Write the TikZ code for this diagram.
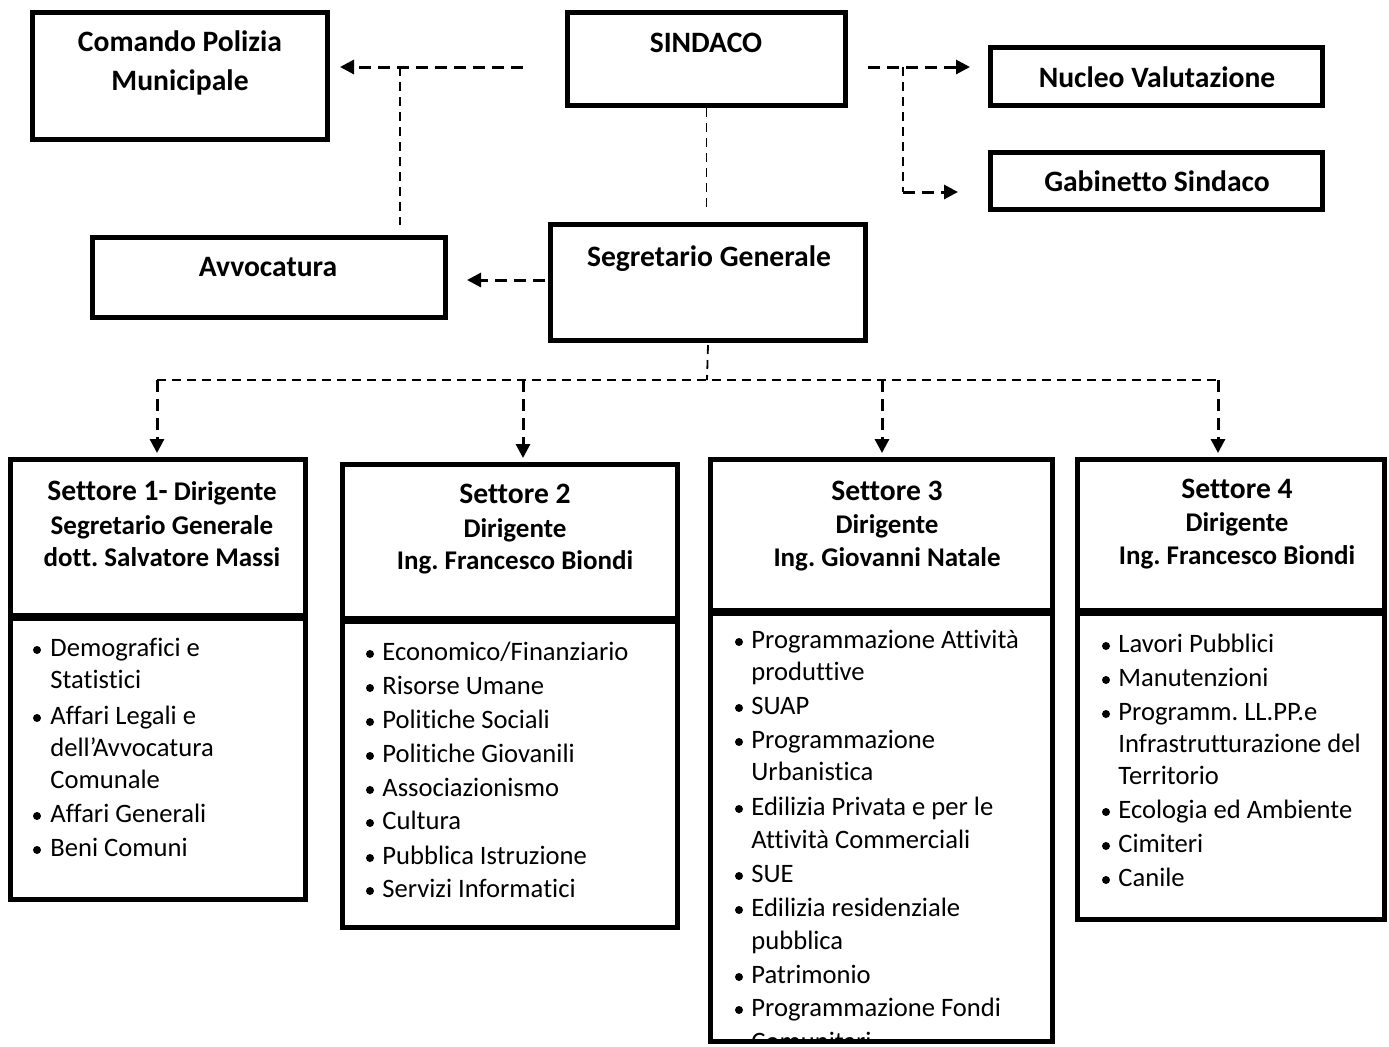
\documentclass[tikz,border=0pt]{standalone}
\usepackage{fontspec}
\setmainfont{Carlito}[Ligatures=CommonOff]
\usetikzlibrary{arrows.meta,fit}
\frenchspacing
\begin{document}
\begin{tikzpicture}[x=0.5pt,y=-0.5pt,
  box/.style={draw,line width=2.5pt,inner sep=0pt,fit={#1}},
  ttl/.style={font=\bfseries\fontsize{14.8}{17}\selectfont,inner sep=0pt,anchor=base},
  sub/.style={font=\bfseries\fontsize{13.5}{15}\selectfont,inner sep=0pt,anchor=base},
  itm/.style={font=\fontsize{13.3}{15}\selectfont,inner sep=0pt,anchor=base west},
  dthick/.style={line width=1.5pt,dash pattern=on 6pt off 3.5pt},
  dthin/.style={line width=0.9pt,dash pattern=on 4.5pt off 3pt},
  arr/.style={-{Triangle[length=7pt,width=7pt]}}]
\useasboundingbox (0,0) rectangle (1389,1046);

% ---------- top boxes ----------
\node[box={(32.5,12.5) (327.5,139.5)}] (cpm) {};
\node[box={(567.5,12.5) (845.5,105.5)}] (sind) {};
\node[box={(990.5,47.5) (1322.5,105.5)}] (nv) {};
\node[box={(990.5,152.5) (1322.5,209.5)}] (gs) {};
\node[box={(92.5,237.5) (445.5,317.5)}] (avv) {};
\node[box={(550.5,224.5) (865.5,340.5)}] (sg) {};

\node[ttl] (tcpm1) at (180,51) {Comando Polizia};
\node[ttl] (tcpm2) at (180,90) {Municipale};
\node[ttl] (tsind) at (706,52) {SINDACO};
\node[ttl] (tnv) at (1157,87) {Nucleo Valutazione};
\node[ttl] (tgs) at (1157,191) {Gabinetto Sindaco};
\node[ttl] (tavv) at (268,276) {Avvocatura};
\node[ttl] (tsg) at (709,266) {Segretario Generale};

% ---------- settore boxes ----------
\node[box={(10.5,459.5) (305.5,615.5)}] (s1h) {};
\node[box={(10.5,618.5) (305.5,899.5)}] (s1l) {};
\node[box={(342.5,464.5) (677.5,618.5)}] (s2h) {};
\node[box={(342.5,621.5) (677.5,927.5)}] (s2l) {};
\node[box={(710.5,459.5) (1052.5,610.5)}] (s3h) {};
\node[box={(710.5,613.5) (1052.5,1041.5)}] (s3l) {};
\node[box={(1077.5,459.5) (1384.5,610.5)}] (s4h) {};
\node[box={(1077.5,613.5) (1384.5,919.5)}] (s4l) {};

\node[ttl] (h11) at (162,500) {Settore 1-{\fontsize{13.5}{15}\selectfont\ Dirigente}};
\node[sub] (h12) at (162,534) {Segretario Generale};
\node[sub] (h13) at (162,566) {dott. Salvatore Massi};
\node[ttl] (h21) at (515,503) {Settore 2};
\node[sub] (h22) at (515,537) {Dirigente};
\node[sub] (h23) at (515,569) {Ing. Francesco Biondi};
\node[ttl] (h31) at (887,500) {Settore 3};
\node[sub] (h32) at (887,533) {Dirigente};
\node[sub] (h33) at (887,566) {Ing. Giovanni Natale};
\node[ttl] (h41) at (1237,498) {Settore 4};
\node[sub] (h42) at (1237,531) {Dirigente};
\node[sub] (h43) at (1237,564) {Ing. Francesco Biondi};

% ---------- lists ----------
\foreach \y/\b/\t [count=\i] in {648/1/{Demografici e},680/0/{Statistici},716/1/{Affari Legali e},748/0/{dell’Avvocatura},780/0/{Comunale},814/1/{Affari Generali},848/1/{Beni Comuni}}{
  \node[itm] (la\i) at (50,\y+8) {\t};
  \ifnum\b=1 \fill (37,\y+2) circle[radius=2pt]; \fi
}
\foreach \y/\b/\t [count=\i] in {652/1/{Economico/Finanziario},686/1/{Risorse Umane},720/1/{Politiche Sociali},754/1/{Politiche Giovanili},788/1/{Associazionismo},821/1/{Cultura},856/1/{Pubblica Istruzione},889/1/{Servizi Informatici}}{
  \node[itm] (lb\i) at (382,\y+8) {\t};
  \ifnum\b=1 \fill (370,\y+2) circle[radius=2pt]; \fi
}
\begin{scope}
\clip (713,616) rectangle (1050,1039);
\foreach \y/\b/\t [count=\i] in {640/1/{Programmazione Attività},672/0/{produttive},706/1/{SUAP},740/1/{Programmazione},772/0/{Urbanistica},807/1/{Edilizia Privata e per le},840/0/{Attività Commerciali},874/1/{SUE},908/1/{Edilizia residenziale},941/0/{pubblica},975/1/{Patrimonio},1008/1/{Programmazione Fondi},1042/0/{Comunitari}}{
  \node[itm] (lc\i) at (751,\y+8) {\t};
  \ifnum\b=1 \fill (739,\y+2) circle[radius=2pt]; \fi
}
\end{scope}
\foreach \y/\b/\t [count=\i] in {644/1/{Lavori Pubblici},678/1/{Manutenzioni},712/1/{Programm. LL.PP.e},744/0/{Infrastrutturazione del},776/0/{Territorio},810/1/{Ecologia ed Ambiente},844/1/{Cimiteri},878/1/{Canile}}{
  \node[itm] (ld\i) at (1118,\y+8) {\t};
  \ifnum\b=1 \fill (1106,\y+2) circle[radius=2pt]; \fi
}

% ---------- connectors ----------
\coordinate (sL) at (523,67);
\coordinate (jL) at (400,67);
\coordinate (sR) at (868,67);
\coordinate (jR) at (903,67);
\coordinate (kR) at (903,192);
\coordinate (bus) at (707,380);
\coordinate (b1) at (157,380);
\coordinate (b2) at (523,380);
\coordinate (b3) at (882,380);
\coordinate (b4) at (1218,380);

\draw[dthick,arr] (sL) -- ([xshift=5pt]cpm.east |- sL);
\draw[dthin] (jL) -- ([yshift=5pt]jL |- avv.north);
\draw[dthick,arr] (sR) -- ([xshift=-9pt]nv.west |- sR);
\draw[dthin] (jR) -- (kR);
\draw[dthick,arr] (kR) -- ([xshift=-15pt]gs.west |- kR);
\draw[dthin] (sind.south) -- ([yshift=6pt]sind.south |- sg.north);
\draw[dthick,arr] ([xshift=-1.5pt]sg.west |- 0,280) -- ([xshift=9.5pt]avv.east |- 0,280);
\draw[dthin] ([yshift=-1pt]sg.south |- 0,343) -- (bus);
\draw[dthin] (b1) -- (b4);
\draw[dthick,arr] (b1) -- ([yshift=2pt]b1 |- s1h.north);
\draw[dthick,arr] (b2) -- ([yshift=2pt]b2 |- s2h.north);
\draw[dthick,arr] (b3) -- ([yshift=2pt]b3 |- s3h.north);
\draw[dthick,arr] (b4) -- ([yshift=2pt]b4 |- s4h.north);
\end{tikzpicture}
\end{document}
